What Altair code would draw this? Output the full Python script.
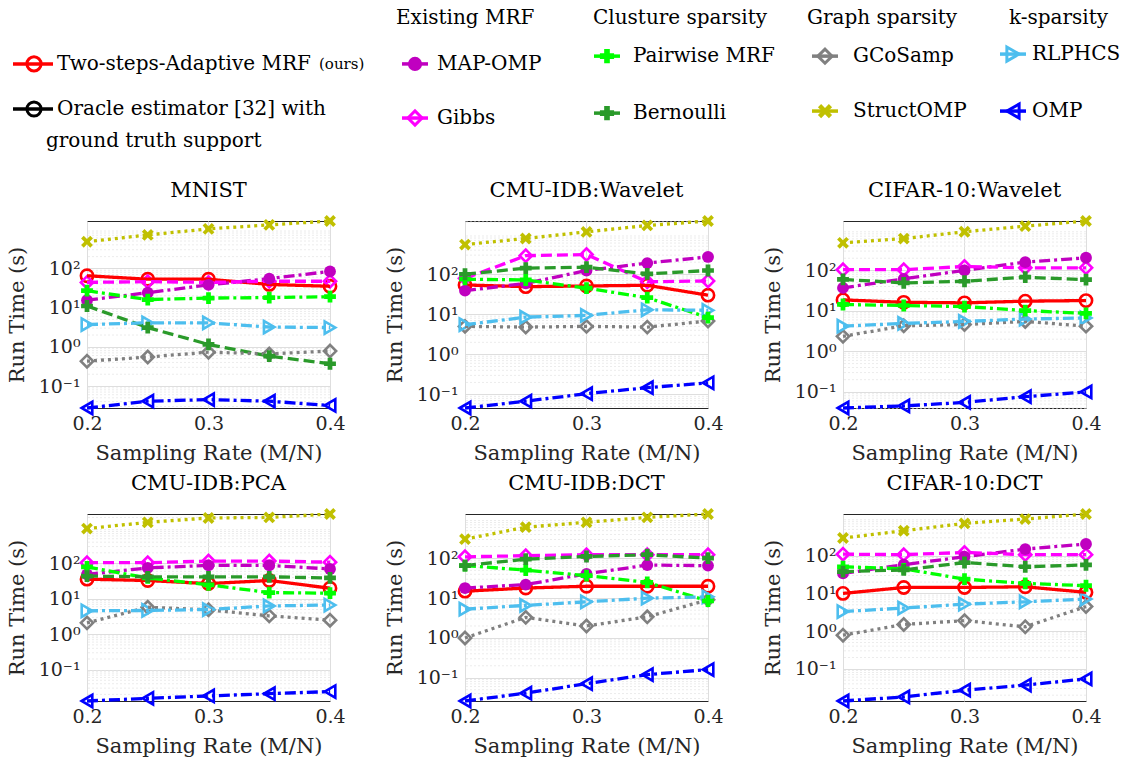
import altair as alt
import pandas as pd

FONT = "DejaVu Serif"
TXT = "#262626"

rates = [0.2, 0.25, 0.3, 0.35, 0.4]

methods = ["Two-steps-Adaptive MRF", "Oracle estimator", "MAP-OMP", "Gibbs",
           "Pairwise MRF", "Bernoulli", "GCoSamp", "StructOMP", "RLPHCS", "OMP"]
colors = ["#ff0000", "#000000", "#c000c0", "#ff00ff", "#00ff00",
          "#2a9a2a", "#808080", "#c0c000", "#4dbeee", "#0000ff"]
XPATH = "M-1,-0.55L-0.55,-1L0,-0.45L0.55,-1L1,-0.55L0.45,0L1,0.55L0.55,1L0,0.45L-0.55,1L-1,0.55L-0.45,0Z"
shapes = ["circle", "circle", "circle", "diamond", "cross", "cross",
          "diamond", XPATH, "triangle-right", "triangle-left"]
SOLID, DASH, DASHDOT, DOT = [1, 0], [11, 5], [11, 4, 3, 4], [3, 4]
dashes = [SOLID, SOLID, DASHDOT, DASH, DASHDOT, DASH, DOT, DOT, DASHDOT, DASHDOT]
open_methods = ["Two-steps-Adaptive MRF", "Oracle estimator", "Gibbs", "GCoSamp", "RLPHCS", "OMP"]

# ---- run times (s), per panel, per method (rates 0.2..0.4)
mnist = {
    "Two-steps-Adaptive MRF": [65, 53, 53, 39, 35],
    "MAP-OMP": [15.5, 24, 38, 55, 84],
    "Gibbs": [44, 46, 44, 47, 47],
    "Pairwise MRF": [27, 16, 17.5, 18, 19],
    "Bernoulli": [11, 3.1, 1.15, 0.58, 0.37],
    "GCoSamp": [0.43, 0.55, 0.73, 0.66, 0.78],
    "StructOMP": [480, 715, 1020, 1290, 1620],
    "RLPHCS": [3.7, 4.1, 4.1, 3.2, 3.1],
    "OMP": [0.0275, 0.041, 0.045, 0.041, 0.032],
}
cmu_wavelet = {
    "Two-steps-Adaptive MRF": [54, 49, 51, 53, 30],
    "MAP-OMP": [39, 59, 124, 190, 270],
    "Gibbs": [79, 290, 310, 65, 68],
    "Pairwise MRF": [75, 72, 45, 26, 8.3],
    "Bernoulli": [100, 142, 150, 102, 124],
    "GCoSamp": [5.0, 4.8, 5.0, 4.8, 6.8],
    "StructOMP": [550, 780, 1140, 1650, 2130],
    "RLPHCS": [5.5, 8.5, 9.4, 13, 12.6],
    "OMP": [0.046, 0.068, 0.105, 0.148, 0.195],
}
cifar_wavelet = {
    "Two-steps-Adaptive MRF": [18.7, 16.3, 15.8, 17.4, 18],
    "MAP-OMP": [37, 62, 100, 160, 205],
    "Gibbs": [104, 104, 125, 116, 116],
    "Pairwise MRF": [14.4, 13.6, 12.8, 10.2, 8.7],
    "Bernoulli": [60, 49, 54, 68, 59],
    "GCoSamp": [2.35, 4.3, 4.6, 5.5, 4.2],
    "StructOMP": [480, 610, 900, 1240, 1660],
    "RLPHCS": [4.2, 4.9, 5.5, 6.3, 6.7],
    "OMP": [0.04, 0.045, 0.055, 0.076, 0.10],
}
cmu_pca = {
    "Two-steps-Adaptive MRF": [36, 33, 27, 33, 20],
    "MAP-OMP": [49, 75, 88, 88, 70],
    "Gibbs": [105, 105, 117, 117, 109],
    "Pairwise MRF": [80, 39, 25, 15, 14.5],
    "Bernoulli": [44, 42, 42, 42, 39],
    "GCoSamp": [2.1, 5.8, 4.9, 3.3, 2.5],
    "StructOMP": [970, 1450, 1930, 2000, 2500],
    "RLPHCS": [4.6, 4.7, 5.0, 6.3, 6.7],
    "OMP": [0.013, 0.0155, 0.018, 0.021, 0.024],
}
cmu_dct = {
    "Two-steps-Adaptive MRF": [15, 18, 20, 20, 20],
    "MAP-OMP": [18, 22, 41, 68, 66],
    "Gibbs": [110, 117, 124, 124, 124],
    "Pairwise MRF": [66, 51, 37, 25, 8.5],
    "Bernoulli": [66, 96, 112, 124, 102],
    "GCoSamp": [1.0, 3.3, 2.0, 3.4, 9.1],
    "StructOMP": [305, 610, 810, 1080, 1310],
    "RLPHCS": [5.3, 6.6, 8.1, 10, 10.8],
    "OMP": [0.026, 0.041, 0.071, 0.12, 0.16],
}
cifar_dct = {
    "Two-steps-Adaptive MRF": [10, 14.4, 14.4, 15, 10.7],
    "MAP-OMP": [34, 58, 94, 150, 205],
    "Gibbs": [110, 107, 122, 107, 107],
    "Pairwise MRF": [51, 45, 24, 18.5, 16],
    "Bernoulli": [38, 42, 66, 51, 57],
    "GCoSamp": [0.78, 1.5, 1.9, 1.3, 4.5],
    "StructOMP": [295, 460, 720, 940, 1280],
    "RLPHCS": [3.3, 4.1, 5.2, 6.0, 7.1],
    "OMP": [0.014, 0.018, 0.027, 0.037, 0.054],
}

panels = [("MNIST", mnist), ("CMU-IDB:Wavelet", cmu_wavelet), ("CIFAR-10:Wavelet", cifar_wavelet),
          ("CMU-IDB:PCA", cmu_pca), ("CMU-IDB:DCT", cmu_dct), ("CIFAR-10:DCT", cifar_dct)]

# ---- legend layout (column groups and labels)
legend_col = [1, 1, 2, 2, 3, 3, 4, 4, 5, 5]
legend_row = [1.12, 2.22, 1.12, 2.44, 0.93, 2.32, 0.93, 2.27, 0.88, 2.27]
legend_label = ["Two-steps-Adaptive MRF", "Oracle estimator [32] with", "MAP-OMP", "Gibbs",
                "Pairwise MRF", "Bernoulli", "GCoSamp", "StructOMP", "RLPHCS", "OMP"]
group_headers = ["Existing MRF", "Clusture sparsity", "Graph sparsity", "k-sparsity"]

color_scale = alt.Scale(domain=methods, range=colors)
shape_scale = alt.Scale(domain=methods, range=shapes)
dash_scale = alt.Scale(domain=methods, range=dashes)

minor_vals = [m * 10.0 ** e for e in range(-3, 4) for m in range(2, 10)]
major_vals = [0.1, 1, 10, 100]

y_axis = alt.Axis(values=major_vals, grid=True, ticks=False, domain=False,
                  gridColor="#dedede", labelPadding=7, titlePadding=11,
                  title="Run Time (s)",
                  labelExpr="datum.value == 100 ? '10²' : datum.value == 10 ? '10¹' : datum.value == 1 ? '10⁰' : '10⁻¹'")
x_axis = alt.Axis(values=[0.2, 0.3, 0.4], format=".1f", grid=True, ticks=False, labelFlush=False,
                  domain=False, gridColor="#dedede", labelPadding=6,
                  titlePadding=9, title="Sampling Rate (M/N)")


def make_panel(title, data):
    rows = []
    for m, vals in data.items():
        for r, v in zip(rates, vals):
            rows.append({"method": m, "rate": r, "time": v})
    df = pd.DataFrame(rows)
    lo, hi = df["time"].min(), df["time"].max()
    minor = pd.DataFrame({"v": [v for v in minor_vals if lo <= v <= hi]})
    ysc = alt.Scale(type="log", domain=[lo, hi], nice=False)
    xsc = alt.Scale(domain=[0.2, 0.4], nice=False, zero=False)
    xenc = alt.X("rate:Q", scale=xsc, axis=x_axis)
    yenc = alt.Y("time:Q", scale=ysc, axis=y_axis)
    col = alt.Color("method:N", scale=color_scale, legend=None)
    grid_minor = alt.Chart(minor).mark_rule(color="#ececec", strokeDash=[2, 2], strokeWidth=1).encode(
        y=alt.Y("v:Q", scale=ysc, axis=y_axis))
    lines = alt.Chart(df).mark_line(strokeWidth=3.3, strokeCap="butt").encode(
        x=xenc, y=yenc, color=col,
        strokeDash=alt.StrokeDash("method:N", scale=dash_scale, legend=None),
        detail="method:N",
    )
    pts_open = alt.Chart(df).transform_filter(
        alt.FieldOneOfPredicate(field="method", oneOf=open_methods)
    ).mark_point(filled=False, strokeWidth=2.6, opacity=1, size=150).encode(
        x=xenc, y=yenc, color=col,
        shape=alt.Shape("method:N", scale=shape_scale, legend=None))
    pts_fill = alt.Chart(df).transform_filter(
        {"not": alt.FieldOneOfPredicate(field="method", oneOf=open_methods)}
    ).mark_point(filled=True, opacity=1, size=140).encode(
        x=xenc, y=yenc, color=col,
        shape=alt.Shape("method:N", scale=shape_scale, legend=None))
    return alt.layer(grid_minor, pts_open, lines, pts_fill).properties(
        width=243, height=187,
        title=alt.TitleParams(title, fontSize=21, font=FONT, fontWeight="normal",
                              color="#000000", offset=13))


# ---- legend: one layered chart whose origin lines up with the first plot's left edge
leg = pd.DataFrame({"method": methods, "col": legend_col, "row": legend_row, "label": legend_label})
hdr = pd.DataFrame({"col": [2, 3, 4, 5], "row": [0, 0, 0, 0], "label": group_headers})
extra = pd.DataFrame({"col": [1], "row": [3.0], "label": ["ground truth support"]})
ours = pd.DataFrame({"col": [1], "row": [1.12], "label": ["(ours)"]})

yleg = alt.Scale(domain=[-0.293, 3.366], reverse=True, nice=False, zero=False)
sym_x = [-53, 328, 520, 738, 926]
stub = [(-74, -34), (315, 341), (507, 533), (725, 751), (913, 939)]
text_x = [-30, 350, 546, 766, 945]
hdr_x = [0, 309, 506, 720, 922]

col_enc = alt.Color("method:N", scale=color_scale, legend=None)
yy = alt.Y("row:Q", scale=yleg, axis=None)
shape_enc = alt.Shape("method:N", scale=shape_scale, legend=None)
leg_layers = []
for k in range(1, 6):
    i = k - 1
    base = alt.Chart(leg).transform_filter(alt.datum.col == k)
    leg_layers.append(base.mark_rule(strokeWidth=3.5).encode(
        x=alt.value(stub[i][0]), x2=alt.value(stub[i][1]), y=yy, color=col_enc))
    leg_layers.append(base.transform_filter(
        alt.FieldOneOfPredicate(field="method", oneOf=open_methods)
    ).mark_point(filled=False, strokeWidth=3, opacity=1, size=200).encode(
        x=alt.value(sym_x[i]), y=yy, color=col_enc, shape=shape_enc))
    leg_layers.append(base.transform_filter(
        {"not": alt.FieldOneOfPredicate(field="method", oneOf=open_methods)}
    ).mark_point(filled=True, opacity=1, size=200).encode(
        x=alt.value(sym_x[i]), y=yy, color=col_enc, shape=shape_enc))
    leg_layers.append(base.mark_text(align="left", baseline="middle", font=FONT, fontSize=20,
                                     color="#000000").encode(
        x=alt.value(text_x[i]), y=yy, text="label:N"))
    if k > 1:
        leg_layers.append(alt.Chart(hdr).transform_filter(alt.datum.col == k).mark_text(
            align="left", baseline="middle", font=FONT, fontSize=20, color="#000000").encode(
            x=alt.value(hdr_x[i]), y=yy, text="label:N"))
leg_layers.append(alt.Chart(extra).mark_text(align="left", baseline="middle", font=FONT,
                                             fontSize=20, color="#000000").encode(
    x=alt.value(-41), y=yy, text="label:N"))
leg_layers.append(alt.Chart(ours).mark_text(align="left", baseline="middle", font=FONT,
                                            fontSize=15, color="#000000").encode(
    x=alt.value(232), y=yy, text="label:N"))
legend = alt.layer(*leg_layers).properties(width=1000, height=150,
                                           view=alt.ViewBackground(stroke="transparent"))

charts = [make_panel(t, d) for t, d in panels]
row1 = alt.hconcat(*charts[:3], spacing=37)
row2 = alt.hconcat(*charts[3:], spacing=37)
grid = alt.vconcat(row1, row2, spacing=8)

chart = alt.vconcat(legend, grid, spacing=22).properties(
    padding={"left": 5, "top": 5, "right": 3, "bottom": 3}
).configure_axis(
    labelFont=FONT, titleFont=FONT, labelFontSize=19, titleFontSize=21,
    titleFontWeight="normal", labelColor=TXT, titleColor=TXT
).configure_view(stroke="#262626", strokeWidth=1)

chart.save("out.html", embed_options={"renderer": "svg", "actions": False})
